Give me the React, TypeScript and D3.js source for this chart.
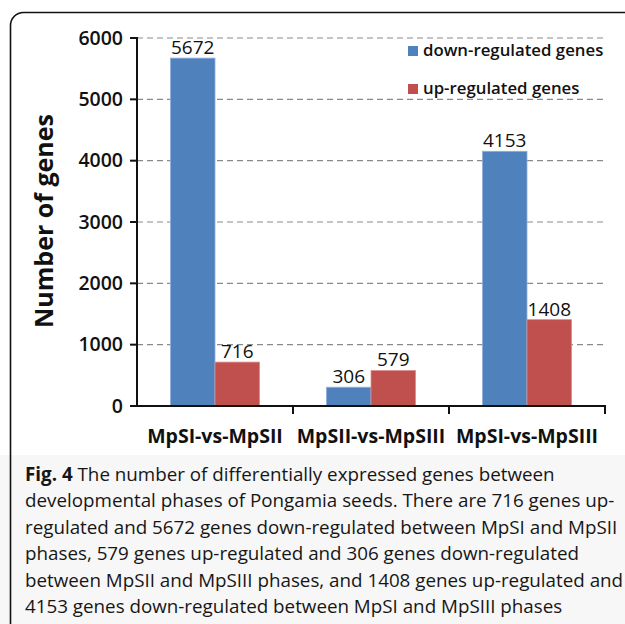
import React from 'react';
import * as d3 from 'd3';

const categories = ['MpSI-vs-MpSII', 'MpSII-vs-MpSIII', 'MpSI-vs-MpSIII'];
const seriesNames = ['down-regulated genes', 'up-regulated genes'];
const downValues = [5672, 306, 4153];
const upValues = [716, 579, 1408];
const yTicks = [0, 1000, 2000, 3000, 4000, 5000, 6000];
const seriesColors = ['#4f81bd', '#c0504d'];

const captionLines = [
  'The number of differentially expressed genes between',
  'developmental phases of Pongamia seeds. There are 716 genes up-',
  'regulated and 5672 genes down-regulated between MpSI and MpSII',
  'phases, 579 genes up-regulated and 306 genes down-regulated',
  'between MpSII and MpSIII phases, and 1408 genes up-regulated and',
  '4153 genes down-regulated between MpSI and MpSIII phases',
];

const W = 625;
const H = 624;
const font = "'Open Sans', 'Noto Sans', sans-serif";

export default function App() {
  const x0 = d3.scaleBand<string>().domain(categories).range([137, 605]).paddingInner(0).paddingOuter(0);
  const x1 = d3.scaleBand<string>().domain(seriesNames).range([0, x0.bandwidth()]).paddingInner(0).paddingOuter(0.75);
  const y = d3.scaleLinear().domain([0, 6000]).range([406, 38]);
  const series = [downValues, upValues];

  return (
    <svg width={W} height={H} style={{ position: 'absolute', left: 0, top: 0, background: '#fff' }} fontFamily={font}>
      <rect x={0} y={455} width={W} height={H - 455} fill="#f7f7f7" />
      <rect x={10.5} y={12.5} width={700} height={700} rx={13} fill="none" stroke="#111" strokeWidth={1.6} />

      {/* grid */}
      {yTicks.filter((t) => t > 0).map((t) => (
        <line key={'g' + t} x1={137} x2={605} y1={y(t)} y2={y(t)} stroke="#8a8a8a" strokeWidth={1.2} strokeDasharray="6,4" />
      ))}

      {/* bars */}
      {categories.map((c, i) => (
        <g key={c} transform={`translate(${x0(c)},0)`}>
          {seriesNames.map((s, j) => {
            const v = series[j][i];
            const bx = x1(s) as number;
            return (
              <g key={s}>
                <rect x={bx} y={y(v)} width={x1.bandwidth()} height={y(0) - y(v)} fill={seriesColors[j]}
                  stroke={j === 0 ? '#8fb0dc' : '#dc8f8d'} strokeWidth={0.8} />
                <text x={bx + x1.bandwidth() / 2} y={y(v) - 4} textAnchor="middle" fontSize={19} fill="#111">{v}</text>
              </g>
            );
          })}
        </g>
      ))}

      {/* y axis */}
      <line x1={137} x2={137} y1={37} y2={407} stroke="#111" strokeWidth={2} />
      {yTicks.map((t) => (
        <g key={'t' + t}>
          <line x1={130} x2={137} y1={y(t)} y2={y(t)} stroke="#111" strokeWidth={2} />
          <text x={123} y={y(t)} dy="0.35em" textAnchor="end" fontSize={19.5} fontWeight={600} fill="#111">{t}</text>
        </g>
      ))}
      <text transform="translate(53,221) rotate(-90)" textAnchor="middle" fontSize={25} fontWeight={700} fill="#111">Number of genes</text>

      {/* x axis */}
      <line x1={136} x2={606} y1={406} y2={406} stroke="#111" strokeWidth={2} />
      {categories.map((c) => (
        <line key={'xt' + c} x1={(x0(c) as number) + x0.bandwidth()} x2={(x0(c) as number) + x0.bandwidth()} y1={406} y2={414} stroke="#111" strokeWidth={2} />
      ))}
      {categories.map((c) => (
        <text key={'xl' + c} x={(x0(c) as number) + x0.bandwidth() / 2} y={443} textAnchor="middle" fontSize={19.5} fontWeight={700} fill="#111">{c}</text>
      ))}

      {/* legend */}
      {seriesNames.map((s, j) => (
        <g key={'lg' + s} transform={`translate(408,${46 + j * 38})`}>
          <rect x={0} y={0} width={10} height={10} fill={seriesColors[j]} />
          <text x={15} y={10} fontSize={16.8} fontWeight={600} fill="#111">{s}</text>
        </g>
      ))}

      {/* caption */}
      <text x={25} y={481} fontSize={18.8} fill="#161616">
        <tspan fontWeight={700}>Fig. 4</tspan> {captionLines[0]}
      </text>
      {captionLines.slice(1).map((l, i) => (
        <text key={'cl' + i} x={25} y={481 + (i + 1) * 26.4} fontSize={18.8} fill="#161616">{l}</text>
      ))}
    </svg>
  );
}
